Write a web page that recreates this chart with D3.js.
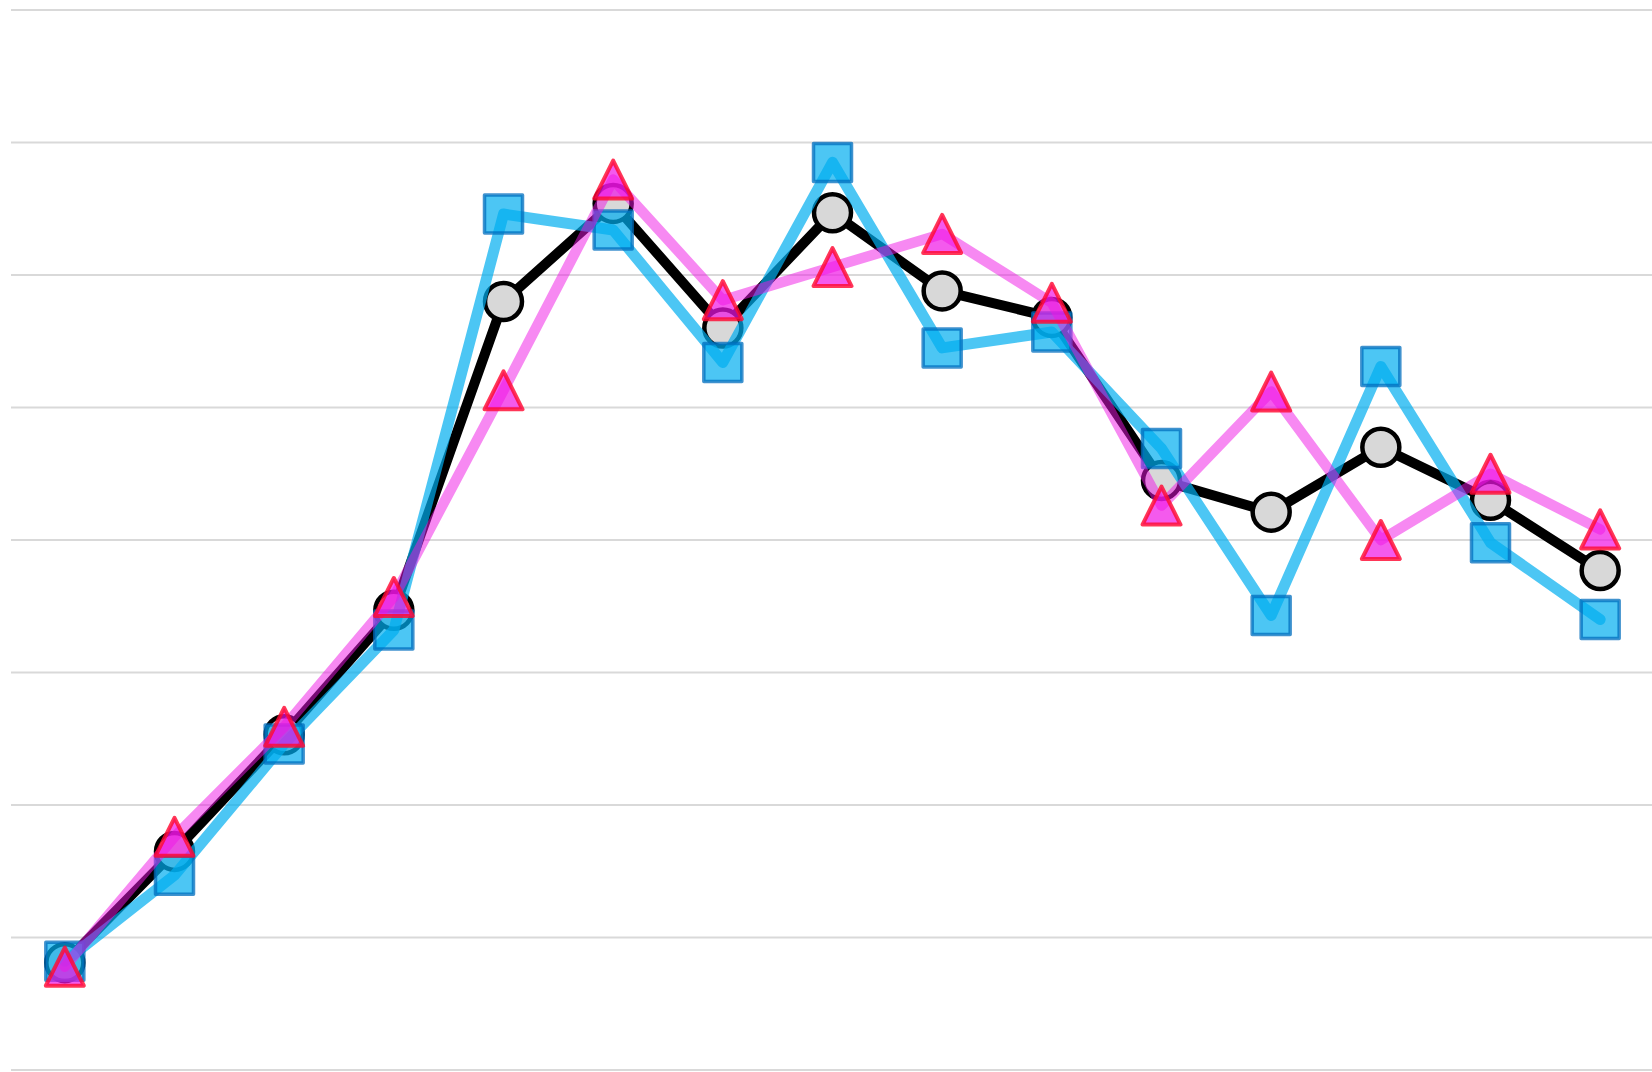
<!DOCTYPE html>
<html>
<head>
<meta charset="utf-8">
<script src="https://cdn.jsdelivr.net/npm/d3@7"></script>
<style>
  html, body { margin: 0; padding: 0; background: #fff; }
  svg { display: block; }
</style>
</head>
<body>
<svg id="chart" width="1652" height="1072"></svg>
<script>
const categories = ["1","2","3","4","5","6","7","8","9","10","11","12","13","14","15"];
const gridTicks = [0, 10, 20, 30, 40, 50, 60, 70, 80];
const seriesCircle = [8.1, 16.5, 25.3, 34.7, 58.0, 65.4, 56.0, 64.7, 58.8, 56.8, 44.5, 42.1, 47.0, 43.0, 37.7];
const seriesSquare = [8.2, 14.7, 24.6, 33.2, 64.6, 63.4, 53.4, 68.5, 54.5, 55.7, 46.9, 34.3, 53.1, 39.8, 34.0];
const seriesTriangle = [7.8, 17.6, 25.9, 35.7, 51.3, 67.2, 58.1, 60.6, 63.1, 57.9, 42.6, 51.2, 40.0, 45.0, 40.8];

const svg = d3.select("#chart");
const x = d3.scalePoint().domain(categories).range([10, 1655]).padding(0.5);
const y = d3.scaleLinear().domain([0, 80]).range([1070, 10]);

// grid
svg.append("g").selectAll("line").data(gridTicks).join("line")
  .attr("x1", 11).attr("x2", 1652)
  .attr("y1", d => y(d)).attr("y2", d => y(d))
  .attr("stroke", "#d9d9d9").attr("stroke-width", 2);

const line = d3.line().x((d, i) => x(categories[i])).y(d => y(d));

// circle series (black)
const g1 = svg.append("g");
g1.append("path").datum(seriesCircle).attr("d", line)
  .attr("fill", "none").attr("stroke", "#000").attr("stroke-width", 10)
  .attr("stroke-linejoin", "round").attr("stroke-linecap", "round");
g1.selectAll("circle").data(seriesCircle).join("circle")
  .attr("cx", (d, i) => x(categories[i])).attr("cy", d => y(d))
  .attr("r", 18.5).attr("fill", "#d8d8d8").attr("stroke", "#000").attr("stroke-width", 4.5);

// square series (blue)
const g2 = svg.append("g");
g2.append("path").datum(seriesSquare).attr("d", line)
  .attr("fill", "none").attr("stroke", "rgba(0,174,239,0.7)").attr("stroke-width", 11)
  .attr("stroke-linejoin", "round").attr("stroke-linecap", "round");
const sq = 38;
g2.selectAll("rect").data(seriesSquare).join("rect")
  .attr("x", (d, i) => x(categories[i]) - sq / 2).attr("y", d => y(d) - sq / 2)
  .attr("width", sq).attr("height", sq)
  .attr("fill", "rgba(0,174,239,0.7)").attr("stroke", "rgba(0,110,190,0.75)")
  .attr("stroke-width", 3.5).attr("stroke-linejoin", "round");

// triangle series (pink)
const g3 = svg.append("g");
g3.append("path").datum(seriesTriangle).attr("d", line)
  .attr("fill", "none").attr("stroke", "rgba(240,20,230,0.5)").attr("stroke-width", 10.5)
  .attr("stroke-linejoin", "round").attr("stroke-linecap", "round");
const ts = 38;
g3.selectAll("path.tri").data(seriesTriangle).join("path")
  .attr("class", "tri")
  .attr("d", (d, i) => {
    const cx = x(categories[i]), cy = y(d), h = ts / 2;
    return `M${cx},${cy - h}L${cx + h},${cy + h}L${cx - h},${cy + h}Z`;
  })
  .attr("fill", "rgba(240,20,230,0.7)").attr("stroke", "rgba(255,10,50,0.82)")
  .attr("stroke-width", 4).attr("stroke-linejoin", "round");
</script>
</body>
</html>
